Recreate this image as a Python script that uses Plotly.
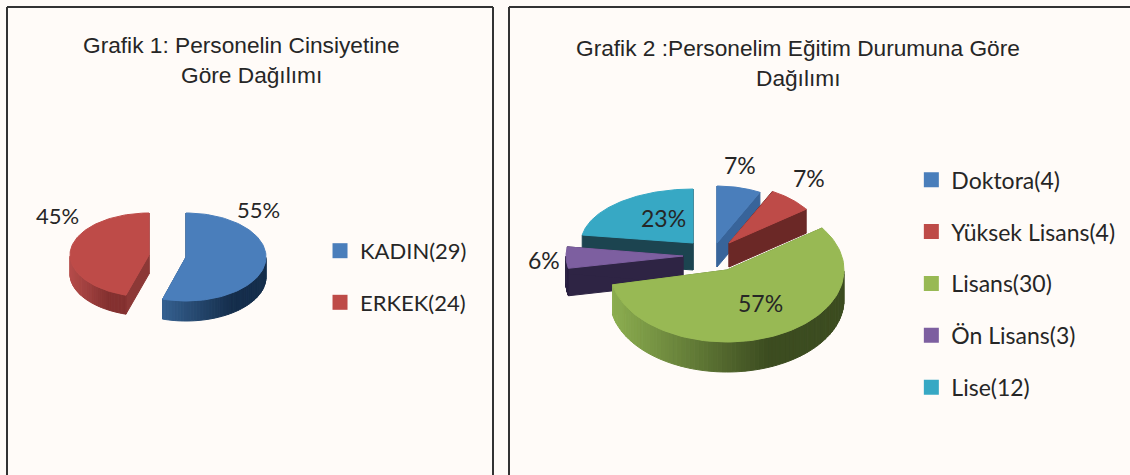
import numpy as np
import plotly.graph_objects as go

# ---- data ----
GENDER_NAMES = ["KADIN(29)", "ERKEK(24)"]
GENDER_VALUES = [29, 24]
GENDER_LABELS = ["55%", "45%"]
EDU_NAMES = ["Doktora(4)", "Yüksek Lisans(4)", "Lisans(30)", "Ön Lisans(3)", "Lise(12)"]
EDU_VALUES = [4, 4, 30, 3, 12]
EDU_LABELS = ["7%", "7%", "57%", "6%", "23%"]
TITLE_LINES = ["Grafik 1: Personelin Cinsiyetine", "Göre Dağılımı",
               "Grafik 2 :Personelim Eğitim Durumuna Göre", "Dağılımı"]

# ---- styles ----
BG = "#fffbf8"
TXT = "#262626"
GENDER_TOP = ["#4a7ebb", "#be4b48"]
GENDER_CUT = ["#2b4f78", "#8c3836"]
GENDER_WALL = [("#35608f", "#152e4c"), ("#b54c4a", "#843130")]
EDU_TOP = ["#4a7ebb", "#be4b48", "#98b954", "#7d5fa0", "#37a8c4"]
EDU_CUT = ["#38649a", "#6b2826", "#56702e", "#2e2444", "#1c4450"]
EDU_WALL = [("#38649a", "#38649a"), ("#6b2826", "#6b2826"), ("#8cae50", "#3c4c20"),
            ("#2e2444", "#2e2444"), ("#1c4450", "#1c4450")]

# per-slice drawing geometry (pixel-scaled axes): apex x, apex y, rx, ry, depth
GENDER_GEOM = [(186, 257, 80, 44, 20), (149, 255, 79, 42, 19)]
EDU_GEOM = [(717, 243, 94, 57, 24), (729, 243, 95, 58, 24), (727, 270, 117, 72, 30),
            (683, 256, 117, 62, 27), (693, 243, 112, 54, 27)]
GENDER_LABEL_POS = [(258, 209), (57, 215)]
EDU_LABEL_POS = [(740, 165), (809, 178), (760, 303), (544, 260), (663, 218)]
TITLE_POS = [(241, 45), (251, 75), (798, 48), (798, 78)]
EDU_ORDER = [4, 3, 0, 1, 2]   # painter's order: back slices first


def hex_rgb(c):
    return np.array([int(c[i:i + 2], 16) for i in (1, 3, 5)], dtype=float)


def mix(a, b, t):
    r = hex_rgb(a) * (1 - t) + hex_rgb(b) * t
    return f"rgb({r[0]:.0f},{r[1]:.0f},{r[2]:.0f})"


fig = go.Figure()


def poly(xs, ys, color):
    fig.add_trace(go.Scatter(x=xs, y=ys, mode="lines", fill="toself", fillcolor=color,
                             line=dict(color=color, width=1), hoverinfo="skip",
                             showlegend=False))


def draw_pie(values, geom, tops, cuts, walls, order):
    total = sum(values)
    edges = np.concatenate([[0], np.cumsum(values)]) / total * 2 * np.pi
    for i in order:
        ax, ay, rx, ry, d = geom[i]
        a0, a1 = edges[i], edges[i + 1]
        t = np.linspace(a0, a1, 90)
        ex, ey = ax + rx * np.sin(t), ay - ry * np.cos(t)
        # radial cut faces
        for a in (a0, a1):
            px, py = ax + rx * np.sin(a), ay - ry * np.cos(a)
            poly([ax, px, px, ax, ax], [ay, py, py + d, ay + d, ay], cuts[i])
        # outer wall, front-facing part only, shaded along its length
        front = t[(t > np.pi / 2) & (t < 3 * np.pi / 2)]
        if len(front) > 1:
            x0, x1 = ax + rx * np.sin(front.max()), ax + rx * np.sin(front.min())
            for k in range(len(front) - 1):
                s = front[k:k + 2]
                sx, sy = ax + rx * np.sin(s), ay - ry * np.cos(s)
                f = (sx.mean() - x0) / max(x1 - x0, 1)
                poly(list(sx) + list(sx[::-1]) + [sx[0]],
                     list(sy) + list(sy[::-1] + d) + [sy[0]],
                     mix(walls[i][0], walls[i][1], min(1, f * 1.5)))
        # top face
        poly([ax] + list(ex) + [ax], [ay] + list(ey) + [ay], tops[i])


draw_pie(GENDER_VALUES, GENDER_GEOM, GENDER_TOP, GENDER_CUT, GENDER_WALL, [1, 0])
draw_pie(EDU_VALUES, EDU_GEOM, EDU_TOP, EDU_CUT, EDU_WALL, EDU_ORDER)

# real legends, one per chart
for names, tops, lg in ((GENDER_NAMES, GENDER_TOP, "legend"), (EDU_NAMES, EDU_TOP, "legend2")):
    for n, c in zip(names, tops):
        fig.add_trace(go.Scatter(x=[None], y=[None], mode="markers", name=n, legend=lg,
                                 legendgroup=n,
                                 marker=dict(symbol="square", size=15, color=c)))

font_l = dict(family="Lato", size=22, color=TXT)
font_r = dict(family="Lato", size=23, color=TXT)
for txt, (x, y) in zip(GENDER_LABELS, GENDER_LABEL_POS):
    fig.add_annotation(x=x, y=y, text=txt, showarrow=False, font=font_l)
for txt, (x, y) in zip(EDU_LABELS, EDU_LABEL_POS):
    fig.add_annotation(x=x, y=y, text=txt, showarrow=False, font=font_r)
for txt, (x, y) in zip(TITLE_LINES, TITLE_POS):
    fig.add_annotation(x=x, y=y, text=txt, showarrow=False,
                       font=dict(family="Liberation Sans", size=22.7, color=TXT))

leg = dict(bgcolor="rgba(0,0,0,0)", xanchor="left", yanchor="top",
           itemwidth=30, traceorder="grouped")
fig.update_layout(
    width=1130, height=475, margin=dict(l=0, r=0, t=0, b=0), autosize=False,
    paper_bgcolor=BG, plot_bgcolor=BG,
    xaxis=dict(range=[0, 1130], visible=False, fixedrange=True),
    yaxis=dict(range=[475, 0], visible=False, fixedrange=True),
    legend=dict(x=0.2832, y=0.516, font=font_l, tracegroupgap=20, **leg),
    legend2=dict(x=0.8065, y=0.667, font=font_r, tracegroupgap=19, **leg),
    showlegend=True,
    shapes=[
        dict(type="line", x0=x0, y0=y0, x1=x1, y1=y1, line=dict(color="#333333", width=2))
        for x0, y0, x1, y1 in ((7, 7, 493, 7), (7, 7, 7, 475), (493, 7, 493, 475),
                               (509, 7, 1130, 7), (509, 7, 509, 475))
    ],
)
fig.write_html("out.html", post_script="document.body.style.margin='0';",
               config=dict(displayModeBar=False))
